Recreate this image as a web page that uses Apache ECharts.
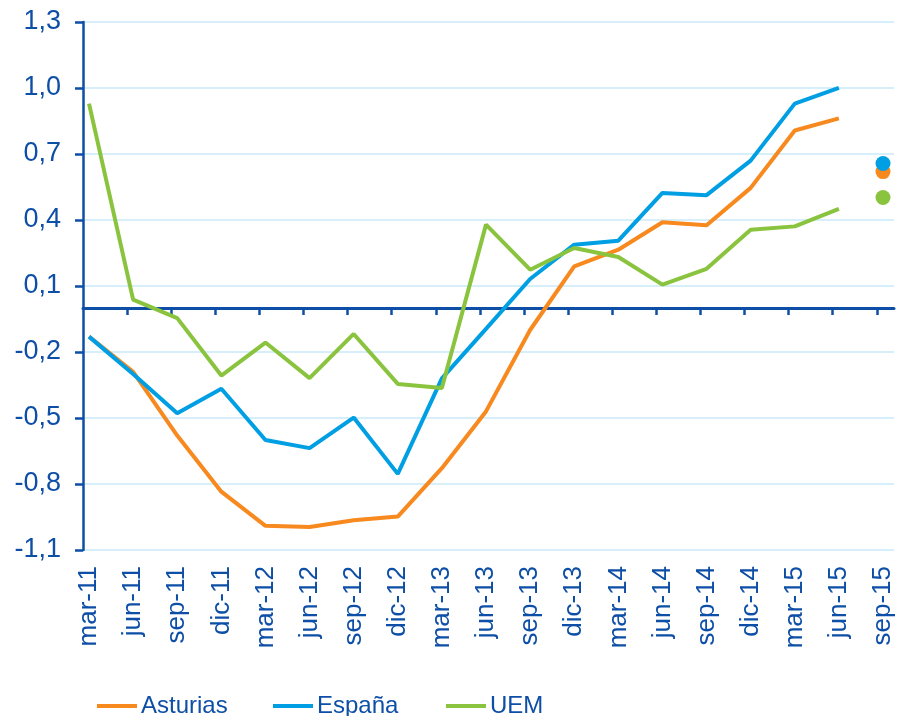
<!DOCTYPE html>
<html>
<head>
<meta charset="utf-8">
<script src="https://cdn.jsdelivr.net/npm/echarts@6/dist/echarts.min.js"></script>
<style>
html,body{margin:0;padding:0;background:#fff;}
#chart{width:901px;height:716px;}
</style>
</head>
<body>
<div id="chart"></div>
<script>
var categories = ['mar-11','jun-11','sep-11','dic-11','mar-12','jun-12','sep-12','dic-12','mar-13','jun-13','sep-13','dic-13','mar-14','jun-14','sep-14','dic-14','mar-15','jun-15','sep-15'];
var asturias = [-0.13,-0.29,-0.58,-0.835,-0.99,-0.995,-0.965,-0.948,-0.728,-0.47,-0.10,0.189,0.265,0.39,0.376,0.546,0.807,0.862,null];
var espana   = [-0.13,-0.30,-0.478,-0.367,-0.60,-0.637,-0.498,-0.754,-0.32,-0.095,0.132,0.288,0.306,0.523,0.513,0.67,0.929,1.001,null];
var uem      = [0.929,0.038,-0.046,-0.307,-0.157,-0.319,-0.118,-0.345,-0.364,0.379,0.174,0.273,0.232,0.106,0.178,0.356,0.371,0.451,null];
var forecastCategory = 'sep-15';
var forecastAsturias = 0.62;
var forecastEspana = 0.657;
var forecastUem = 0.502;
var yTicksMin = -1.1, yTicksMax = 1.3, yTickStep = 0.3;

var DARK = '#0D4EA6';
var GRID = '#C9EAF8';
var C_AST = '#F7891F';
var C_ESP = '#009FE3';
var C_UEM = '#8AC43F';
var FONT = '"Liberation Sans", Arial, sans-serif';

var zeroTicks = [];
for (var i = 1; i < categories.length; i++) zeroTicks.push(i);

var chart = echarts.init(document.getElementById('chart'), null, {renderer:'canvas'});
var gridTop = 22, gridBottom = 166;
function legendFor(name, left) {
  return {
    data: [name], left: left, top: 694, icon: 'rect', itemWidth: 40, itemHeight: 4, itemGap: 0,
    padding: 0,
    textStyle: {fontSize: 24, color: DARK, fontFamily: FONT, padding: [0,0,0,-1]}
  };
}
chart.setOption({
  animation: false,
  backgroundColor: '#fff',
  legend: [legendFor('Asturias', 97), legendFor('España', 273), legendFor('UEM', 446)],
  grid: [
    {left: 83, right: 7, top: gridTop, bottom: gridBottom},
    {left: 89, right: 18, top: gridTop, bottom: gridBottom}
  ],
  xAxis: [
    {
      gridIndex: 0, type: 'value', min: 0, max: 18.39, interval: 1,
      axisLine: {show: true, onZero: true, lineStyle: {color: DARK, width: 3}},
      axisTick: {show: true, length: 7, lineStyle: {color: DARK, width: 2.5}, customValues: zeroTicks},
      axisLabel: {show: false},
      splitLine: {show: false}
    },
    {
      gridIndex: 1, type: 'category', data: categories, boundaryGap: false,
      axisLine: {show: false, onZero: false}, axisTick: {show: false},
      axisLabel: {rotate: 90, fontSize: 26, color: DARK, fontFamily: FONT, margin: 16, interval: 0}
    }
  ],
  yAxis: [
    {
      gridIndex: 0, type: 'value', min: yTicksMin, max: yTicksMax, interval: yTickStep,
      axisLine: {show: true, lineStyle: {color: DARK, width: 2.5}},
      axisTick: {show: true, length: 8, lineStyle: {color: DARK, width: 2.5}},
      axisLabel: {fontSize: 27, color: DARK, fontFamily: FONT, margin: 22,
        formatter: function (v) { return (Math.round(v * 10) / 10).toFixed(1).replace('.', ','); }},
      splitLine: {show: true, lineStyle: {color: GRID, width: 1.5}}
    },
    {
      gridIndex: 1, type: 'value', min: yTicksMin, max: yTicksMax, show: false,
      splitLine: {show: false}
    }
  ],
  series: [
    {name: 'Asturias', type: 'line', xAxisIndex: 1, yAxisIndex: 1, data: asturias, showSymbol: false,
      lineStyle: {color: C_AST, width: 4}, itemStyle: {color: C_AST}, z: 3},
    {name: 'España', type: 'line', xAxisIndex: 1, yAxisIndex: 1, data: espana, showSymbol: false,
      lineStyle: {color: C_ESP, width: 4}, itemStyle: {color: C_ESP}, z: 3},
    {name: 'UEM', type: 'line', xAxisIndex: 1, yAxisIndex: 1, data: uem, showSymbol: false,
      lineStyle: {color: C_UEM, width: 4}, itemStyle: {color: C_UEM}, z: 3},
    {name: 'Asturias previsión', type: 'scatter', xAxisIndex: 1, yAxisIndex: 1, symbolSize: 15,
      data: [[forecastCategory, forecastAsturias]], itemStyle: {color: C_AST, opacity: 1}, z: 4},
    {name: 'España previsión', type: 'scatter', xAxisIndex: 1, yAxisIndex: 1, symbolSize: 15,
      data: [[forecastCategory, forecastEspana]], itemStyle: {color: C_ESP, opacity: 1}, z: 5},
    {name: 'UEM previsión', type: 'scatter', xAxisIndex: 1, yAxisIndex: 1, symbolSize: 15,
      data: [[forecastCategory, forecastUem]], itemStyle: {color: C_UEM, opacity: 1}, z: 4}
  ]
});
</script>
</body>
</html>
